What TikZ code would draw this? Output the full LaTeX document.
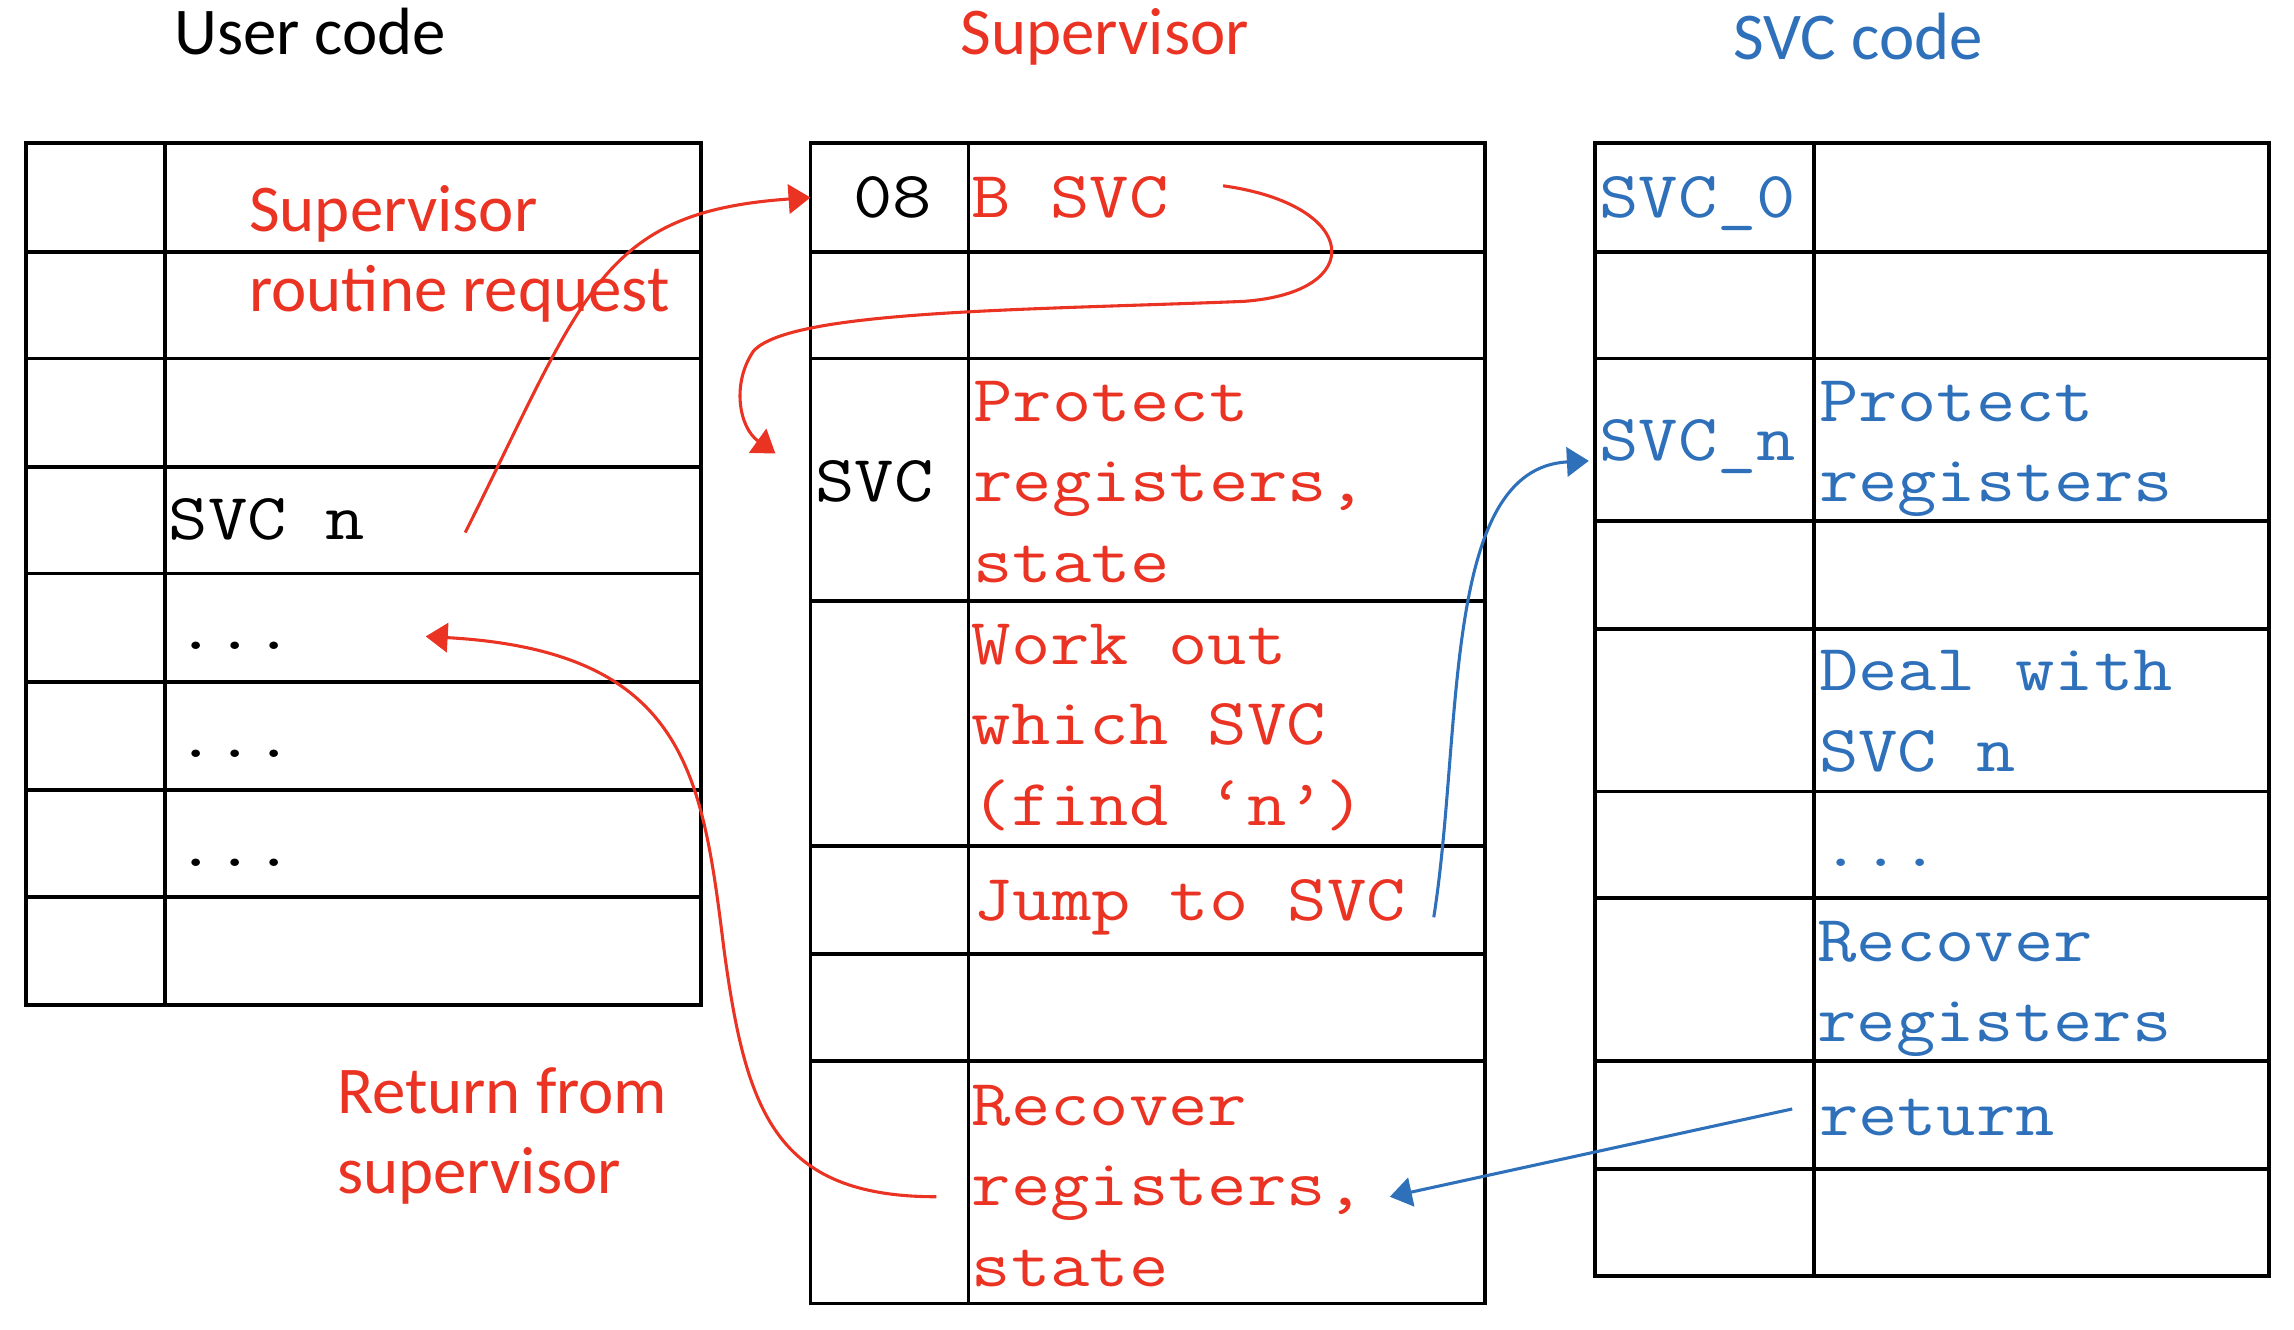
\documentclass[tikz,border=0pt]{standalone}
\usepackage{fontspec}
\setmainfont{Carlito}
\newfontfamily\codefont[FakeStretch=1.16]{Latin Modern Mono}
\usetikzlibrary{arrows.meta}
\definecolor{supred}{RGB}{234,51,35}
\definecolor{svcblue}{RGB}{46,112,186}

\begin{document}
\begin{tikzpicture}[x=0.02cm, y=-0.02cm,
        tbl/.style={line width=1.5pt},
        code/.style={font=\codefont\fontsize{25.6}{31.3}\selectfont, inner sep=0pt, anchor=base west, align=left},
        heading/.style={font=\fontsize{26}{31.3}\selectfont, inner sep=0pt, anchor=base},
        note/.style={font=\fontsize{26}{31.3}\selectfont, inner sep=0pt, anchor=base west, align=left, text=supred},
        link/.style={line width=1.2pt, -{Triangle[length=0.3cm, width=0.4cm]}}]
        \useasboundingbox (0,0) rectangle (1568,909);

        % Titols
        \node[heading] (usertitle) at (212,37) {User code};
        \node[heading, text=supred] (suptitle) at (755,37) {Supervisor};
        \node[heading, text=svcblue] (svctitle) at (1270,41) {SVC code};

        % Taula: codi d'usuari
        \draw[tbl] (18,98) rectangle (479,687);
        \draw[tbl] (113,98) -- (113,687);
        \foreach \y in {172,245,319,392,466,540,613}
            \draw[tbl] (18,\y) -- (479,\y);
        \node[code] (svcn) at (115,369) {SVC n};
        \node[code] (dotsa) at (120,444) {...};
        \node[code] (dotsb) at (120,518) {...};
        \node[code] (dotsc) at (120,592) {...};
        % (base = ultima linia)
        \node[note] (request) at (170,213) {Supervisor\\routine request};
        \node[note] (retfrom) at (230,816) {Return from\\supervisor};

        % Taula: supervisor
        \draw[tbl] (554,98) rectangle (1015,891);
        \draw[tbl] (662,98) -- (662,891);
        \foreach \y in {172,245,411,578,652,725}
            \draw[tbl] (554,\y) -- (1015,\y);
        \node[code, anchor=base] (addr) at (610,149) {08};
        \node[code] (svclab) at (557,343) {SVC};
        \node[code, text=supred] (bsvc) at (664,149) {B SVC};
        \node[code, text=supred] (protect) at (665,398) {Protect\\registers,\\state};
        \node[code, text=supred] (workout) at (664,564) {Work out\\which SVC\\(find ‘n’)};
        \node[code, text=supred] (jump) at (665,629) {Jump to SVC};
        \node[code, text=supred] (recover) at (664,879) {Recover\\registers,\\state};

        % Taula: codi SVC
        \draw[tbl] (1090,98) rectangle (1551,872);
        \draw[tbl] (1240,98) -- (1240,872);
        \foreach \y in {172,245,356,430,541,614,725,799}
            \draw[tbl] (1090,\y) -- (1551,\y);
        \node[code, text=svcblue] (svczero) at (1093,149) {SVC\_0};
        \node[code, text=svcblue] (svcnlab) at (1093,315) {SVC\_n};
        \node[code, text=svcblue] (protectb) at (1243,343) {Protect\\registers};
        \node[code, text=svcblue] (deal) at (1243,527) {Deal with\\SVC n};
        \node[code, text=svcblue] (dotsd) at (1245,592) {...};
        \node[code, text=svcblue] (recoverb) at (1242,712) {Recover\\registers};
        \node[code, text=svcblue] (return) at (1243,776) {return};

        % Extrems de les fletxes
        \coordinate (callout) at (318,364);
        \coordinate (entry) at (554,135);
        \coordinate (bout) at (836,127);
        \coordinate (svcin) at (530,310);
        \coordinate (jumpout) at (980,627);
        \coordinate (svcnin) at (1086,315);
        \coordinate (retout) at (1225,758);
        \coordinate (recin) at (950,818);
        \coordinate (recout) at (640,818);
        \coordinate (backin) at (291,435);

        \draw[link, supred] (callout) .. controls (400,200) and (410,145) .. (entry);
        \draw[link, supred] (bout) .. controls (930,140) and (935,200) .. (850,206)
            .. controls (700,212) and (540,212) .. (515,240)
            .. controls (500,262) and (505,292) .. (svcin);
        \draw[link, svcblue] (jumpout) .. controls (1000,500) and (985,320) .. (svcnin);
        \draw[link, svcblue] (retout) -- (recin);
        \draw[link, supred] (recout) .. controls (530,818) and (510,760) .. (495,650)
            .. controls (480,530) and (470,445) .. (backin);
    \end{tikzpicture}
\end{document}
